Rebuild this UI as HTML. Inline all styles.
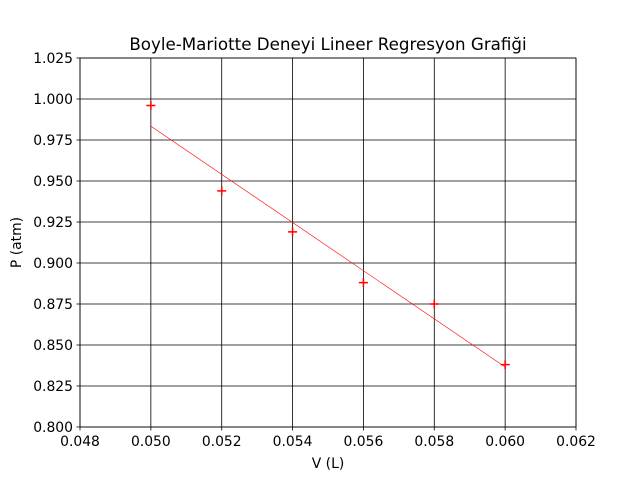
<!DOCTYPE html>
<html><head><meta charset="utf-8"><style>
body{margin:0;background:#fff}
text{font-family:"DejaVu Sans","Liberation Sans",sans-serif;fill:#000}
</style></head><body>
<svg id="chart" width="640" height="480" xmlns="http://www.w3.org/2000/svg">
<text x="328" y="50" font-size="16.7" text-anchor="middle">Boyle-Mariotte Deneyi Lineer Regresyon Grafiği</text>
<g id="grid"></g><g id="ticks"></g><g id="marks"></g>
<rect x="80" y="58" width="496" height="369" fill="none" stroke="#000" stroke-width="0.8"/>
<text x="328" y="468" font-size="13.9" text-anchor="middle">V (L)</text>
<text transform="translate(21,242.5) rotate(-90)" font-size="13.9" text-anchor="middle">P (atm)</text>
</svg>
<script>
const volumes=[0.050,0.052,0.054,0.056,0.058,0.060];
const pressures=[0.996,0.944,0.919,0.888,0.875,0.838];
const xTicks=[0.048,0.050,0.052,0.054,0.056,0.058,0.060,0.062];
const yTicks=[0.800,0.825,0.850,0.875,0.900,0.925,0.950,0.975,1.000,1.025];
const X0=80,X1=576,Y0=427,Y1=58;
const sx=v=>X0+(v-0.048)/(0.062-0.048)*(X1-X0);
const sy=v=>Y0-(v-0.800)/(1.025-0.800)*(Y0-Y1);
const NS="http://www.w3.org/2000/svg";
function mk(t,a,p){const e=document.createElementNS(NS,t);for(const k in a)e.setAttribute(k,a[k]);p.appendChild(e);return e;}
const g=document.getElementById('grid'),tk=document.getElementById('ticks'),m=document.getElementById('marks');
xTicks.forEach(v=>{const x=sx(v);
 const l=mk('line',{x1:x,x2:x,y1:Y1,y2:Y0,stroke:'#000','stroke-width':0.8},g);
 
 
 mk('line',{x1:x,x2:x,y1:Y0,y2:Y0+3.5,stroke:'#000','stroke-width':0.8},tk);
 const t=mk('text',{x:x,y:Y0+19,'font-size':13.9,'text-anchor':'middle'},tk);t.textContent=v.toFixed(3);
 
 });
yTicks.forEach(v=>{const y=sy(v);
 const l=mk('line',{x1:X0,x2:X1,y1:y,y2:y,stroke:'#000','stroke-width':0.8},g);
 
 
 mk('line',{x1:X0-3.5,x2:X0,y1:y,y2:y,stroke:'#000','stroke-width':0.8},tk);
 const t=mk('text',{x:X0-7,y:y+5,'font-size':13.9,'text-anchor':'end'},tk);t.textContent=v.toFixed(3);
 
 });
const n=volumes.length,mx=volumes.reduce((a,b)=>a+b)/n,my=pressures.reduce((a,b)=>a+b)/n;
let sxy=0,sxx=0;volumes.forEach((v,i)=>{sxy+=(v-mx)*(pressures[i]-my);sxx+=(v-mx)**2;});
const b=sxy/sxx,a=my-b*mx;
const xa=Math.min(...volumes),xb=Math.max(...volumes);
const rl=mk('line',{x1:sx(xa),y1:sy(a+b*xa),x2:sx(xb),y2:sy(a+b*xb),stroke:'red','stroke-width':0.6},m);


volumes.forEach((v,i)=>{const x=sx(v),y=sy(pressures[i]);
 const p=mk('path',{d:`M${x-4.5},${y}H${x+4.5}M${x},${y-4.5}V${y+4.5}`,stroke:'red','stroke-width':1.5},m);
 
 });
</script>
</body></html>
